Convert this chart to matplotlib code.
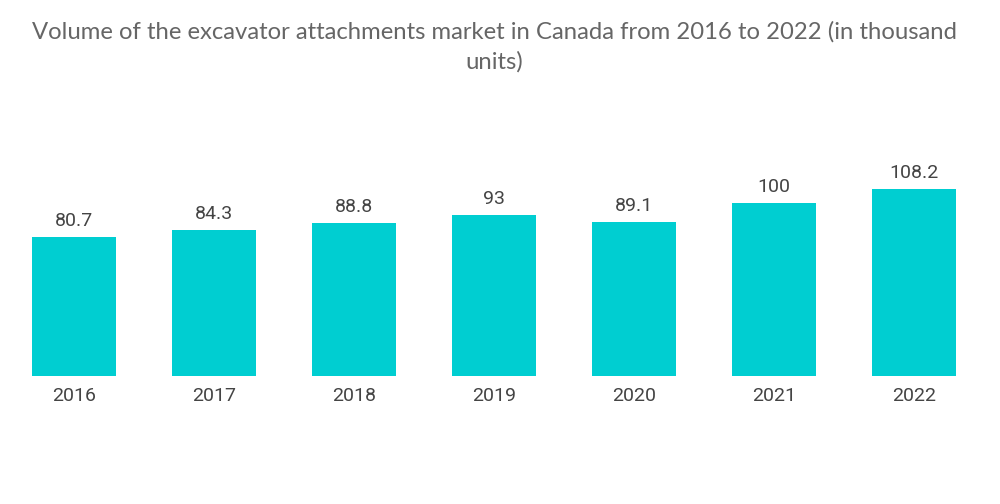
import matplotlib.pyplot as plt

# Data
years = ['2016', '2017', '2018', '2019', '2020', '2021', '2022']
volume = [80.7, 84.3, 88.8, 93, 89.1, 100, 108.2]
value_labels = ['80.7', '84.3', '88.8', '93', '89.1', '100', '108.2']

fig = plt.figure(figsize=(10, 5.04), dpi=100)
ax = fig.add_axes([0.004, 0.254, 0.98, 0.49])

bars = ax.bar(range(len(years)), volume, width=0.6, color='#00CED1')
for b, lab in zip(bars, value_labels):
    ax.text(b.get_x() + b.get_width() / 2, b.get_height() + 4, lab,
            ha='center', va='bottom', fontsize=14, color='#444444',
            family=['Roboto', 'DejaVu Sans'])

ax.set_xlim(-0.5, len(years) - 0.5)
ax.set_ylim(0, 143)
ax.set_xticks(range(len(years)))
ax.set_xticklabels(years, fontsize=14, color='#444444', family=['Roboto', 'DejaVu Sans'])
ax.tick_params(axis='x', length=0, pad=8)
ax.set_yticks([])
for s in ax.spines.values():
    s.set_visible(False)

fig.text(0.494, 0.958, 'Volume of the excavator attachments market in Canada from 2016 to 2022 (in thousand\nunits)',
         ha='center', va='top', fontsize=17.2, color='#666666', linespacing=1.5,
         family=['Lato', 'DejaVu Sans'])

fig.savefig('out.png', dpi=100)
